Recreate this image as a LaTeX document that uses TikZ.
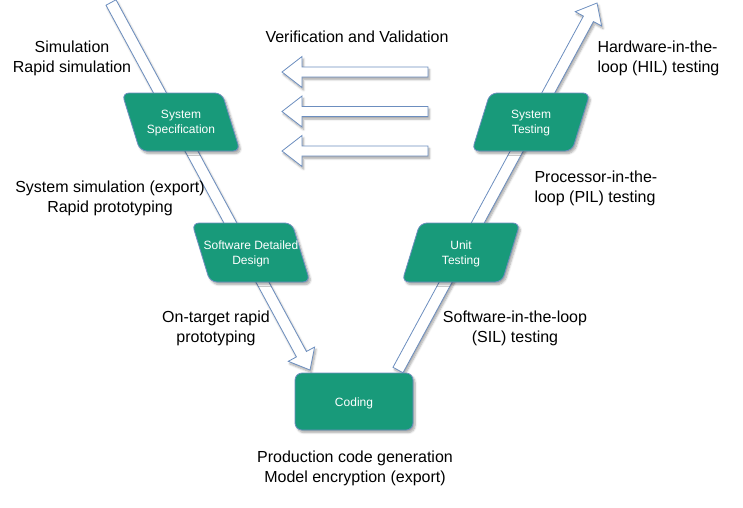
\documentclass[tikz,border=0pt]{standalone}
\usepackage{fontspec}
\setmainfont{Liberation Sans}
\usetikzlibrary{calc,shadows.blur}
\definecolor{stagefill}{HTML}{189A7A}
\definecolor{edgeblue}{HTML}{6C8EBF}
\tikzset{
  fatarrow/.style={draw=edgeblue, fill=white, line width=0.8pt, line join=miter,
    blur shadow={shadow xshift=1.5pt, shadow yshift=-2.5pt, shadow blur steps=6, shadow opacity=35}},
  stage/.style={draw=edgeblue, fill=stagefill, line width=0.8pt, rounded corners=7pt,
    blur shadow={shadow xshift=2pt, shadow yshift=-2.5pt, shadow blur steps=6, shadow opacity=35}},
  stagetext/.style={text=white, font=\fontsize{12}{15}\selectfont, align=center},
  lbl/.style={font=\fontsize{16}{20}\selectfont, align=center, text=black},
}
% tail, tip, half shaft, half head, head length
\newcommand\drawfat[5]{%
  \coordinate (#1-h) at ($(#2)!#5!(#1)$);
  \path[fatarrow] ($(#1)!#3!90:(#2)$) -- ($(#1-h)!#3!90:(#2)$) -- ($(#1-h)!#4!90:(#2)$)
     -- (#2) -- ($(#1-h)!#4!-90:(#2)$) -- ($(#1-h)!#3!-90:(#2)$) -- ($(#1)!#3!-90:(#2)$) -- cycle;
}
\begin{document}
\begin{tikzpicture}[x=1pt,y=-1pt]
\useasboundingbox (0,0) rectangle (743,507);
% big V arrows
\coordinate (la) at (111,2.5);
\coordinate (lb) at (310,370);
\coordinate (ra) at (398,370);
\coordinate (rb) at (597,3);
\drawfat{la}{lb}{5.7pt}{15pt}{18pt}
\drawfat{ra}{rb}{5.7pt}{15pt}{18pt}
% horizontal arrows
\coordinate (h1a) at (428,72);   \coordinate (h1b) at (282,72);
\coordinate (h2a) at (428,111.5);\coordinate (h2b) at (282,111.5);
\coordinate (h3a) at (428,151);  \coordinate (h3b) at (282,151);
\drawfat{h1a}{h1b}{5pt}{15.5pt}{20pt}
\drawfat{h2a}{h2b}{5pt}{15.5pt}{20pt}
\drawfat{h3a}{h3b}{5pt}{15.5pt}{20pt}
% stages
\path[stage] (122,93) -- (222,93) -- (240,151) -- (140,151) -- cycle;
\node[stagetext] (spec) at (181,123.5) {System\\Specification};
\path[stage] (192,223) -- (292,223) -- (310,282) -- (210,282) -- cycle;
\node[stagetext] (sdd) at (251,254) {Software Detailed\\Design};
\path[stage] (490,93) -- (590,93) -- (572,151) -- (472,151) -- cycle;
\node[stagetext] (systest) at (531,123.5) {System\\Testing};
\path[stage] (420,223) -- (520,223) -- (502,282) -- (402,282) -- cycle;
\node[stagetext] (unit) at (461,254) {Unit\\Testing};
\path[stage] (295,373) rectangle (413,430);
\node[stagetext] (coding) at (354,403) {Coding};
% labels
\node[lbl] (vv) at (357,36.5) {Verification and Validation};
\node[lbl] (sim) at (72,58) {Simulation\\Rapid simulation};
\node[lbl] (sysexp) at (110,198) {System simulation (export)\\Rapid prototyping};
\node[lbl] (ontgt) at (216,328) {On-target rapid\\prototyping};
\node[lbl] (sil) at (515,328) {Software-in-the-loop\\(SIL) testing};
\node[lbl, align=left, anchor=west] (pil) at (531,188) {Processor-in-the-\\loop (PIL) testing};
\node[lbl, align=left, anchor=west] (hil) at (594,58) {Hardware-in-the-\\loop (HIL) testing};
\node[lbl] (prod) at (355,468) {Production code generation\\Model encryption (export)};
\end{tikzpicture}
\end{document}
